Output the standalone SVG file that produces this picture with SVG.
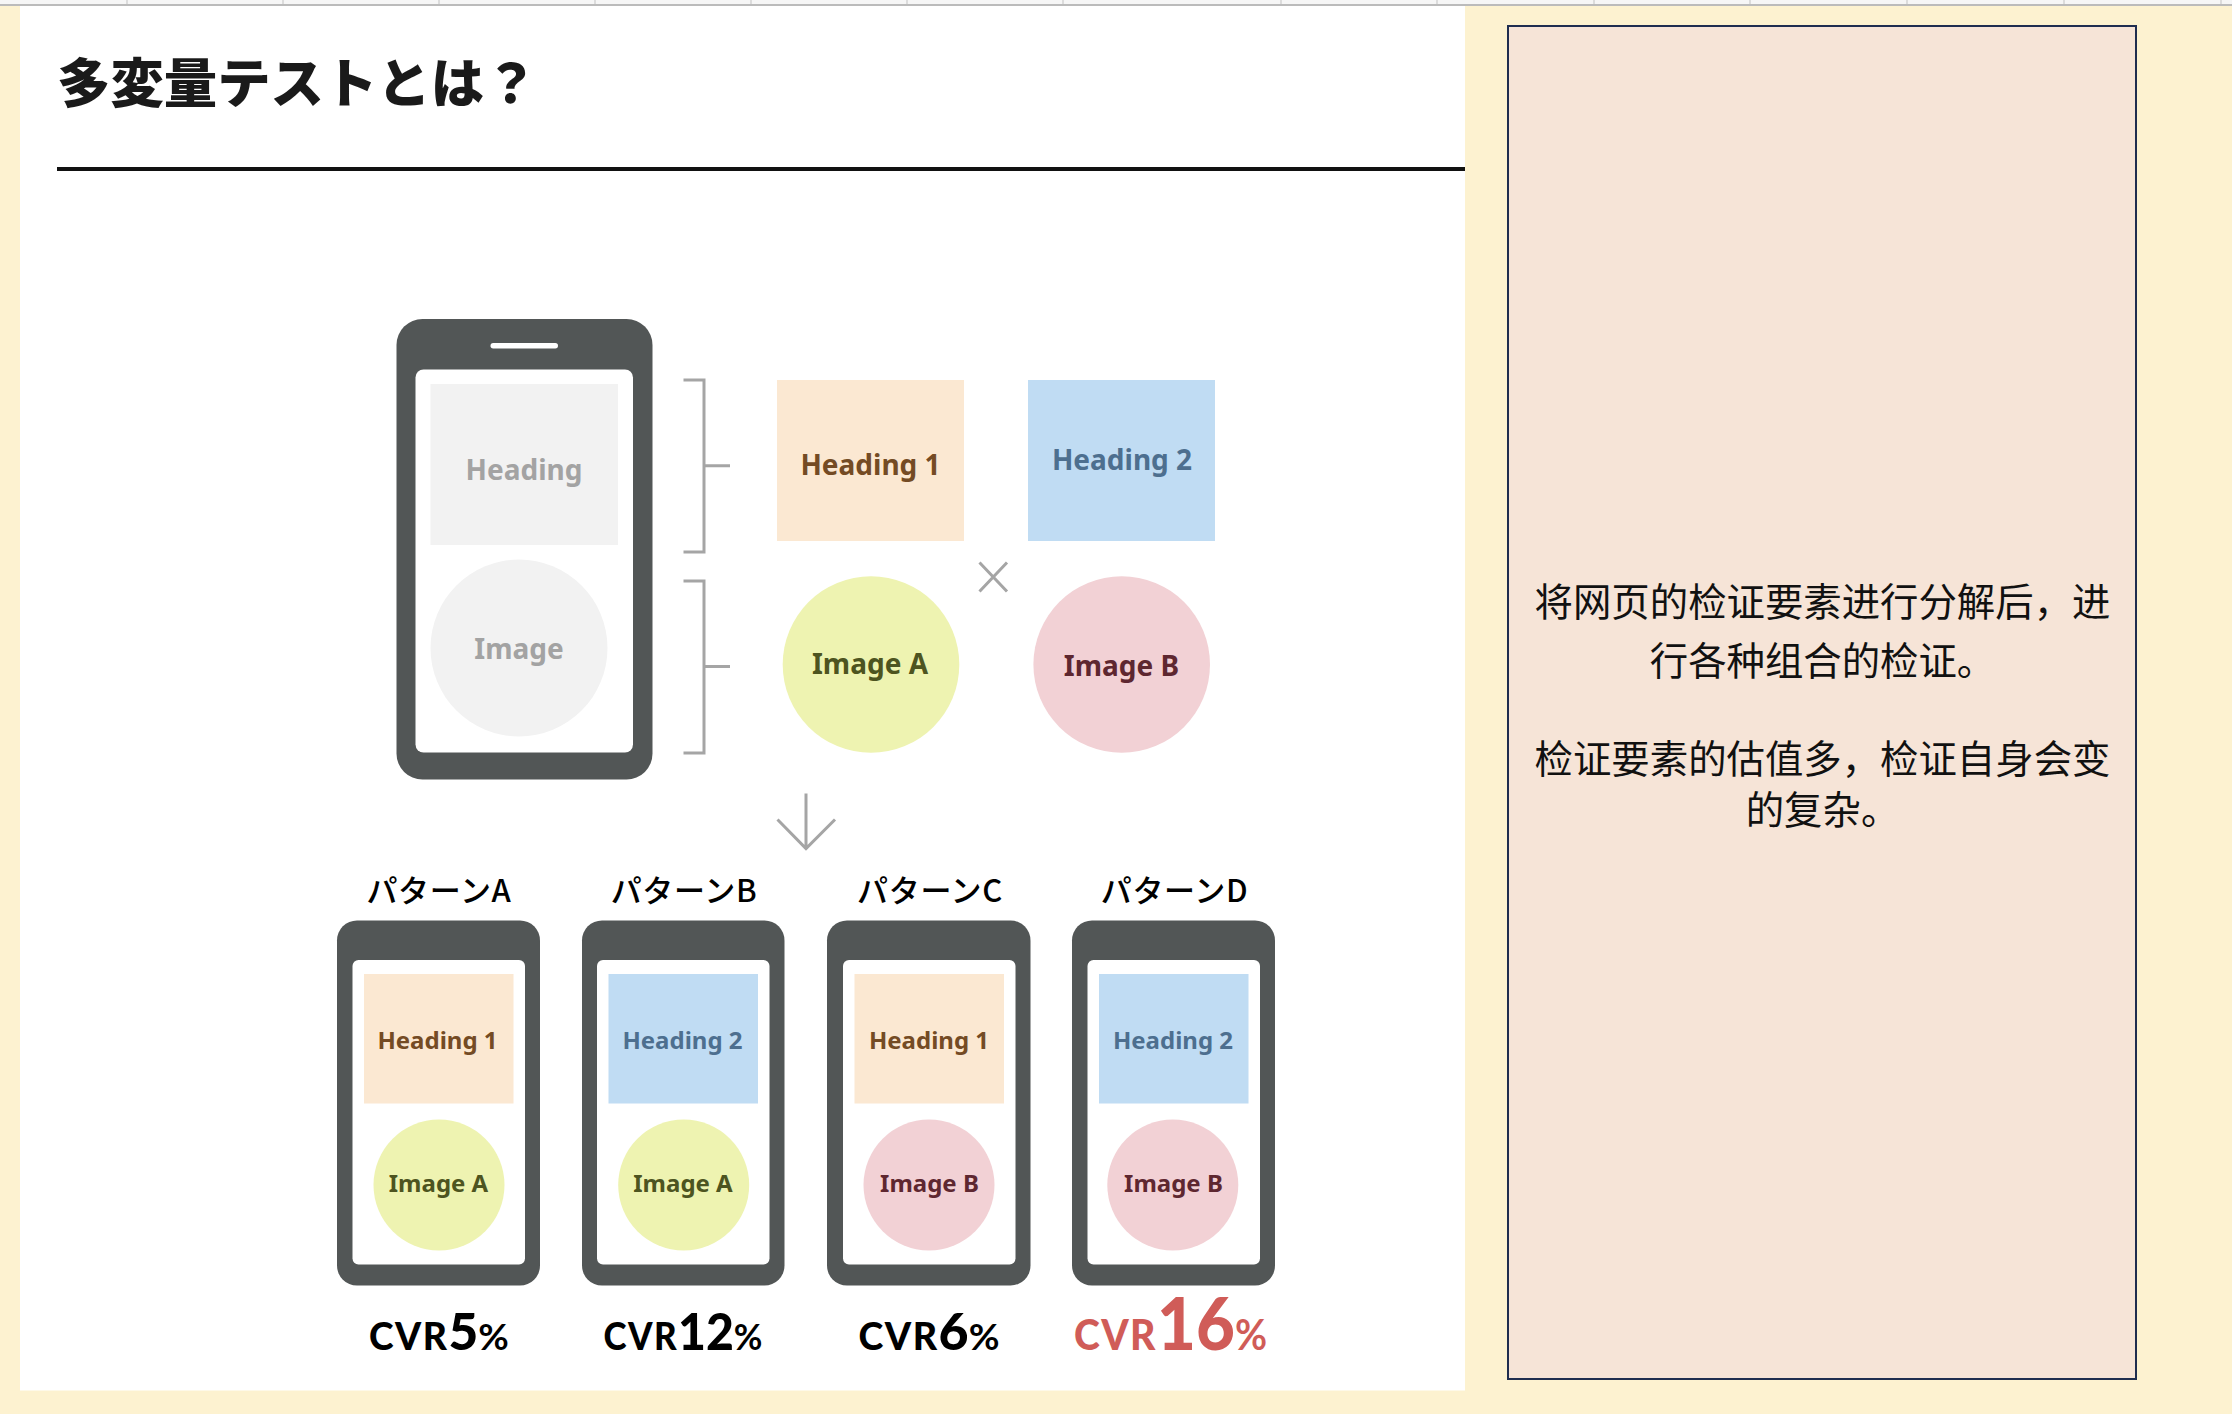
<svg xmlns="http://www.w3.org/2000/svg" width="2232" height="1414" viewBox="0 0 2232 1414">
<style>
.hd{font-family:"Noto Sans","Liberation Sans",sans-serif;font-weight:700;text-anchor:middle}
.lg{font-size:28px}
.sm{font-size:24px}
.h1{fill:#744b24}.h2{fill:#4d6f8f}.ia{fill:#4d5420}.ib{fill:#5e2730}.gr{fill:#a3a3a3}
.rh1{fill:#fbe8d2}.rh2{fill:#c0dcf3}.ca{fill:#eef3b1}.cb{fill:#f2d1d5}
.body{fill:#525656}.scr{fill:#fff}
.line{fill:none;stroke:#a5a5a5;stroke-width:3}
.pat{font-family:"Noto Sans CJK JP",sans-serif;font-weight:500;font-size:31px;letter-spacing:.7px;text-anchor:middle;fill:#000}
.cvr{font-family:Lato,"Liberation Sans",sans-serif;font-weight:900;fill:#000}
.cv{letter-spacing:1.5px}
.pc{font-weight:700}
.zh{font-family:"Noto Sans CJK SC",sans-serif;font-weight:400;font-size:38.4px;text-anchor:middle;fill:#111}
.tick{stroke:#d4d4d4;stroke-width:1.5}
</style>
<rect width="2232" height="1414" fill="#fdf2d0"/>
<g id="sheet-header">
<rect width="2232" height="5" fill="#f6f6f6"/>
<path class="tick" d="M127 0V4M283 0V4M439 0V4M595 0V4M751 0V4M907 0V4M1063 0V4M1281 0V4M1437 0V4M1594 0V4M1750 0V4M1907 0V4M2064 0V4M2221 0V4"/>
<rect y="4" width="2232" height="2" fill="#bbb"/>
</g>
<rect id="panel" x="20" y="6" width="1445" height="1384.5" fill="#fff"/>
<g id="title">
<text x="57" y="103" font-family="'Noto Sans CJK JP',sans-serif" font-weight="900" font-size="53.4" fill="#1a1a1a">多変量テストとは？</text>
<rect x="57" y="167" width="1408" height="4" fill="#111"/>
</g>
<g id="note">
<rect x="1508" y="26" width="628" height="1353" fill="#f6e4d7" stroke="#1f2d4f" stroke-width="2"/>
<text class="zh" x="1822.5" y="616">将网页的检证要素进行分解后，进</text>
<text class="zh" x="1822.5" y="675">行各种组合的检证。</text>
<text class="zh" x="1822.5" y="773">检证要素的估值多，检证自身会变</text>
<text class="zh" x="1822.5" y="824">的复杂。</text>
</g>
<g id="phone-main">
<rect class="body" x="396.5" y="319" width="256" height="460.5" rx="26"/>
<rect class="scr" x="415.5" y="369.5" width="217.5" height="383" rx="8"/>
<rect class="scr" x="490.5" y="343" width="67.5" height="5.5" rx="2.7"/>
<rect x="430.5" y="384" width="187.5" height="161" fill="#f2f2f2"/>
<circle cx="519" cy="648" r="88.5" fill="#f2f2f2"/>
<text class="hd lg gr" x="524" y="480">Heading</text>
<text class="hd lg gr" x="519" y="659">Image</text>
</g>
<g id="heading-1"><rect class="rh1" x="777" y="380" width="187" height="161"/><text class="hd lg h1" x="870.5" y="475">Heading 1</text></g>
<g id="heading-2"><rect class="rh2" x="1028" y="380" width="187" height="161"/><text class="hd lg h2" x="1122" y="470">Heading 2</text></g>
<g id="image-a"><circle class="ca" cx="871" cy="664.5" r="88.3"/><text class="hd lg ia" x="870" y="674">Image A</text></g>
<g id="image-b"><circle class="cb" cx="1121.7" cy="664.5" r="88.3"/><text class="hd lg ib" x="1121.5" y="676">Image B</text></g>
<g id="connectors">
<path class="line" d="M683.5 380H704V552H683.5M704 465.7H730"/>
<path class="line" d="M683.5 581H704V753H683.5M704 666.4H730"/>
<path class="line" stroke-width="2.5" d="M979.5 562.5L1007 591.5M1007 562.5L979.5 591.5"/>
<path class="line" stroke-width="2.5" d="M806 793.5V848.5M777.5 819.5L806 848.5L835 819.5"/>
</g>
<g id="pattern-a">
<text class="pat" x="439" y="902">パターンA</text>
<rect class="body" x="337" y="920.5" width="203" height="365" rx="20"/>
<rect class="scr" x="352.5" y="960" width="172.5" height="304.5" rx="6"/>
<rect class="rh1" x="364" y="974" width="149.5" height="129.5"/>
<circle class="ca" cx="439" cy="1185" r="65.5"/>
<text class="hd sm h1" x="437.5" y="1048.5">Heading 1</text>
<text class="hd sm ia" x="438.5" y="1191.5">Image A</text>
<text class="cvr" x="369" y="1349.5" textLength="139.7" lengthAdjust="spacingAndGlyphs"><tspan class="cv" font-size="37">CVR</tspan><tspan font-size="51">5</tspan><tspan class="pc" font-size="37">%</tspan></text>
</g>
<g id="pattern-b">
<text class="pat" x="684" y="902">パターンB</text>
<rect class="body" x="582" y="920.5" width="202.5" height="365" rx="20"/>
<rect class="scr" x="597" y="960" width="172.5" height="304.5" rx="6"/>
<rect class="rh2" x="608.5" y="974" width="149.5" height="129.5"/>
<circle class="ca" cx="683.7" cy="1185" r="65.5"/>
<text class="hd sm h2" x="682.5" y="1048.5">Heading 2</text>
<text class="hd sm ia" x="683" y="1191.5">Image A</text>
<text class="cvr" x="603.5" y="1349.5" textLength="159" lengthAdjust="spacingAndGlyphs"><tspan class="cv" font-size="37">CVR</tspan><tspan font-size="51">12</tspan><tspan class="pc" font-size="37">%</tspan></text>
</g>
<g id="pattern-c">
<text class="pat" x="930" y="902">パターンC</text>
<rect class="body" x="827" y="920.5" width="203.5" height="365" rx="20"/>
<rect class="scr" x="843" y="960" width="172.5" height="304.5" rx="6"/>
<rect class="rh1" x="854.5" y="974" width="149.5" height="129.5"/>
<circle class="cb" cx="929" cy="1185" r="65.5"/>
<text class="hd sm h1" x="929" y="1048.5">Heading 1</text>
<text class="hd sm ib" x="929.5" y="1191.5">Image B</text>
<text class="cvr" x="858.5" y="1349.5" textLength="141" lengthAdjust="spacingAndGlyphs"><tspan class="cv" font-size="37">CVR</tspan><tspan font-size="51">6</tspan><tspan class="pc" font-size="37">%</tspan></text>
</g>
<g id="pattern-d">
<text class="pat" x="1174.5" y="902">パターンD</text>
<rect class="body" x="1072" y="920.5" width="203" height="365" rx="20"/>
<rect class="scr" x="1087.5" y="960" width="172.5" height="304.5" rx="6"/>
<rect class="rh2" x="1099" y="974" width="149.5" height="129.5"/>
<circle class="cb" cx="1172.8" cy="1185" r="65.5"/>
<text class="hd sm h2" x="1173" y="1048.5">Heading 2</text>
<text class="hd sm ib" x="1173.5" y="1191.5">Image B</text>
<text class="cvr" x="1074" y="1349.5" textLength="193" lengthAdjust="spacingAndGlyphs" style="fill:#d05c58"><tspan class="cv" font-size="42">CVR</tspan><tspan font-size="72">16</tspan><tspan class="pc" font-size="42">%</tspan></text>
</g>
</svg>
